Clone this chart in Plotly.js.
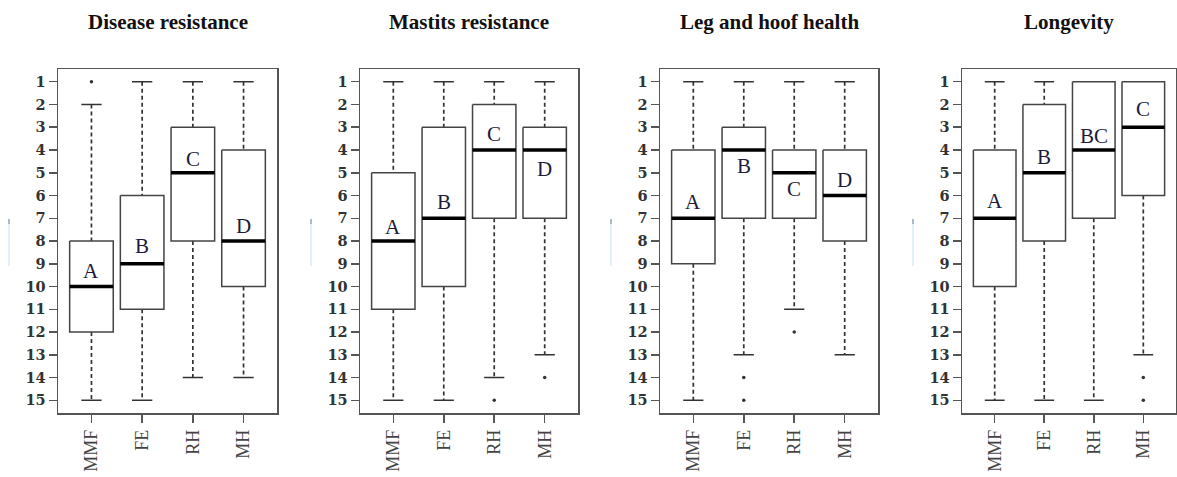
<!DOCTYPE html>
<html>
<head>
<meta charset="utf-8">
<script src="https://cdn.plot.ly/plotly-3.0.1.min.js"></script>
<style>
  html, body { margin: 0; padding: 0; background: #fff; }
  #chart { width: 1177px; height: 477px; }
</style>
</head>
<body>
<div id="chart"></div>
<script>
// Ranking of four breeds (1 = best, 15 = worst) for four functional traits.
const traits = ['Disease resistance', 'Mastits resistance', 'Leg and hoof health', 'Longevity'];
const breeds = ['MMF', 'FE', 'RH', 'MH'];

// Box-plot statistics, one row per trait, one value per breed.
const whiskerTop    = [[2, 1, 1, 1], [1, 1, 1, 1], [1, 1, 1, 1], [1, 1, 1, 1]];
const boxTop        = [[8, 6, 3, 4], [5, 3, 2, 3], [4, 3, 4, 4], [4, 2, 1, 1]];
const medians       = [[10, 9, 5, 8], [8, 7, 4, 4], [7, 4, 5, 6], [7, 5, 4, 3]];
const boxBottom     = [[12, 11, 8, 10], [11, 10, 7, 7], [9, 7, 7, 8], [10, 8, 7, 6]];
const whiskerBottom = [[15, 15, 14, 14], [15, 15, 14, 13], [15, 13, 11, 13], [15, 15, 15, 13]];
const outliers = [
  [[1], [], [], []],
  [[], [], [15], [14]],
  [[], [14, 15], [12], []],
  [[], [], [], [14, 15]]
];

// Significance groups and the rank height where each group letter sits.
const groupLetters = [['A', 'B', 'C', 'D'], ['A', 'B', 'C', 'D'], ['A', 'B', 'C', 'D'], ['A', 'B', 'BC', 'C']];
const letterRank   = [[9.3, 8.2, 4.4, 7.35], [7.4, 6.3, 3.3, 4.85], [6.3, 4.7, 5.7, 5.3], [6.25, 4.3, 3.4, 2.2]];

const rankTicks = [1, 2, 3, 4, 5, 6, 7, 8, 9, 10, 11, 12, 13, 14, 15];

// Page geometry (pixels)
const W = 1177, H = 477;
const panelLeft  = [58, 360, 660, 962];
const panelRight = [277, 578, 878, 1176];
const plotTop = 69, plotBottom = 413;

const SERIF = '"Liberation Serif", "DejaVu Serif", serif';
const WIDE_SERIF = '"DejaVu Serif", "Liberation Serif", serif';
const BOX_HALF = 0.43;     // half box width in category units
const STAPLE_HALF = 0.2;   // half whisker-cap width

const traces = [];
const annotations = [];
const shapes = [];
const layout = {
  width: W, height: H,
  margin: { l: 0, r: 0, t: 0, b: 0 },
  paper_bgcolor: '#fff', plot_bgcolor: '#fff',
  showlegend: false, hovermode: false,
  font: { family: SERIF, color: '#222' }
};

traits.forEach((trait, p) => {
  const ax = p === 0 ? '' : String(p + 1);
  const xa = 'x' + ax, ya = 'y' + ax;

  layout['xaxis' + ax] = {
    domain: [panelLeft[p] / W, panelRight[p] / W],
    range: [0.34, 4.66],
    anchor: ya,
    tickvals: breeds.map((b, i) => i + 1),
    ticktext: breeds,
    tickangle: -90,
    ticks: 'outside', ticklen: 8, tickwidth: 1.5, tickcolor: '#555',
    tickfont: { family: SERIF, size: 18, color: '#444' },
    showline: true, mirror: true, linecolor: '#555', linewidth: 1.5,
    showgrid: false, zeroline: false, fixedrange: true
  };
  layout['yaxis' + ax] = {
    domain: [1 - plotBottom / H, 1 - plotTop / H],
    range: [15.56, 0.44],
    anchor: xa,
    tickvals: rankTicks,
    ticktext: rankTicks.map(String),
    ticks: 'outside', ticklen: 8, tickwidth: 1.5, tickcolor: '#555',
    tickfont: { family: WIDE_SERIF, size: 14.5, color: '#333', weight: 'bold' },
    showline: true, mirror: true, linecolor: '#555', linewidth: 1.5,
    showgrid: false, zeroline: false, fixedrange: true
  };

  // Boxes (white fill, thin outline)
  const bx = [], by = [];
  // Median bars
  const mx = [], my = [];
  // Dashed whiskers
  const wx = [], wy = [];
  // Whisker caps
  const sx = [], sy = [];
  // Outlying ranks
  const ox = [], oy = [];

  breeds.forEach((b, i) => {
    const c = i + 1;
    bx.push(c - BOX_HALF, c + BOX_HALF, c + BOX_HALF, c - BOX_HALF, c - BOX_HALF, null);
    by.push(boxTop[p][i], boxTop[p][i], boxBottom[p][i], boxBottom[p][i], boxTop[p][i], null);

    mx.push(c - BOX_HALF, c + BOX_HALF, null);
    my.push(medians[p][i], medians[p][i], null);

    if (whiskerTop[p][i] < boxTop[p][i]) {
      wx.push(c, c, null);
      wy.push(whiskerTop[p][i], boxTop[p][i], null);
    }
    if (whiskerBottom[p][i] > boxBottom[p][i]) {
      wx.push(c, c, null);
      wy.push(boxBottom[p][i], whiskerBottom[p][i], null);
    }

    [whiskerTop[p][i], whiskerBottom[p][i]].forEach(v => {
      sx.push(c - STAPLE_HALF, c + STAPLE_HALF, null);
      sy.push(v, v, null);
    });

    outliers[p][i].forEach(v => { ox.push(c); oy.push(v); });

    annotations.push({
      xref: xa, yref: ya, x: c, y: letterRank[p][i],
      text: groupLetters[p][i], showarrow: false,
      font: { family: SERIF, size: 21, color: '#1c1c3a' }
    });
  });

  traces.push({
    type: 'scatter', mode: 'lines', xaxis: xa, yaxis: ya,
    x: wx, y: wy, line: { color: '#333', width: 1.7, dash: '4px,3px' }
  });
  traces.push({
    type: 'scatter', mode: 'lines', xaxis: xa, yaxis: ya,
    x: sx, y: sy, line: { color: '#333', width: 1.5 }
  });
  traces.push({
    type: 'scatter', mode: 'lines', xaxis: xa, yaxis: ya,
    x: bx, y: by, fill: 'toself', fillcolor: '#fff',
    line: { color: '#444', width: 1.5 }
  });
  traces.push({
    type: 'scatter', mode: 'lines', xaxis: xa, yaxis: ya,
    x: mx, y: my, line: { color: '#000', width: 3.5 }
  });
  traces.push({
    type: 'scatter', mode: 'markers', xaxis: xa, yaxis: ya,
    x: ox, y: oy, marker: { color: '#333', size: 3.5 }
  });

  // Panel heading
  annotations.push({
    xref: 'paper', yref: 'paper',
    x: (panelLeft[p] + panelRight[p]) / 2 / W, y: 1 - 22 / H,
    xanchor: 'center', yanchor: 'middle',
    text: '<b>' + trait + '</b>', showarrow: false,
    font: { family: SERIF, size: 21, color: '#111' }
  });

  // Faint vertical strip left of the rank labels
  const stripX = (panelLeft[p] - 49) / W;
  shapes.push({
    type: 'line', xref: 'paper', yref: 'paper',
    x0: stripX, x1: stripX, y0: 1 - 266 / H, y1: 1 - 219 / H,
    line: { color: '#d4eff4', width: 1.5 }
  });
  shapes.push({
    type: 'line', xref: 'paper', yref: 'paper',
    x0: stripX, x1: stripX, y0: 1 - 224 / H, y1: 1 - 219 / H,
    line: { color: '#9aa8bb', width: 1.5 }
  });
});

layout.annotations = annotations;
layout.shapes = shapes;

Plotly.newPlot('chart', traces, layout, { staticPlot: true, displayModeBar: false });
</script>
</body>
</html>
